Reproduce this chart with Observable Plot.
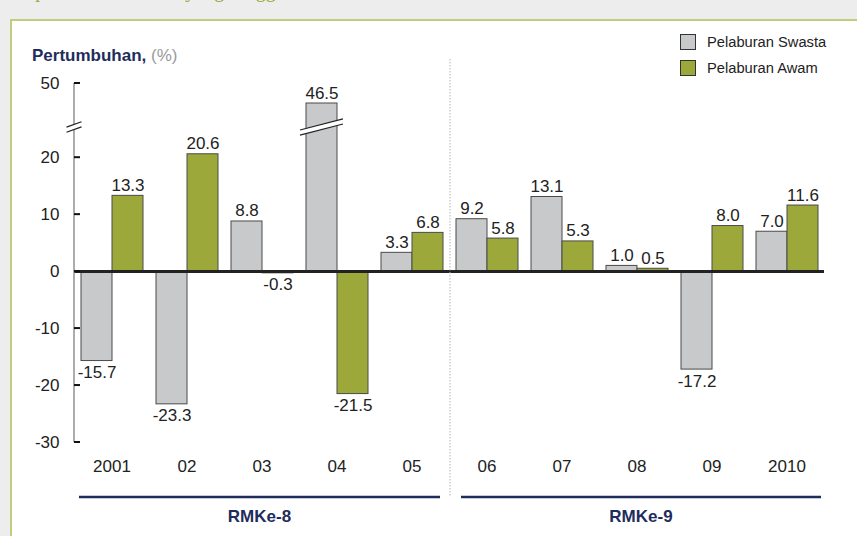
<!DOCTYPE html>
<html>
<head>
<meta charset="utf-8">
<script src="https://cdn.jsdelivr.net/npm/d3@7"></script>
<script src="https://cdn.jsdelivr.net/npm/@observablehq/plot@0.6"></script>
<style>
html, body { margin: 0; padding: 0; }
body { width: 857px; height: 536px; background: #ecedec; position: relative; overflow: hidden; font-family: "Liberation Sans", Arial, sans-serif; }
#title { position: absolute; left: 12px; top: -22px; font: 20px "Liberation Serif", serif; line-height: 24px; color: #9ba53c; white-space: nowrap; }
#panel { position: absolute; left: 10px; top: 19px; width: 900px; height: 600px; background: #fff; border-left: 2px solid #c3cb7c; border-top: 2px solid #c3cb7c; }
#chart { position: absolute; left: 0; top: 0; }
#ylabel { position: absolute; left: 32px; top: 46px; font-size: 17px; line-height: 20px; font-weight: bold; color: #1f2d5c; white-space: nowrap; }
#ylabel span { font-weight: normal; color: #9a9a9a; }
#legend { position: absolute; left: 680px; top: 33px; font-size: 14.7px; color: #222; }
.item { display: flex; align-items: center; height: 17px; margin-bottom: 9px; }
.sw { width: 14px; height: 14px; border: 1.5px solid #333; margin-right: 11px; box-sizing: content-box; }
</style>
</head>
<body>
<div id="title">Kepesatan Pelaburan yang Tinggi</div>
<div id="panel"></div>
<div id="chart"></div>
<div id="ylabel">Pertumbuhan, <span>(%)</span></div>
<div id="legend"></div>
<script>
const years = ["2001","2002","2003","2004","2005","2006","2007","2008","2009","2010"];
const yearLabels = ["2001","02","03","04","05","06","07","08","09","2010"];
const seriesNames = ["Pelaburan Swasta","Pelaburan Awam"];
const seriesColors = ["#c8c9cb","#9ca93a"];
const swasta = [-15.7,-23.3,8.8,46.5,3.3,9.2,13.1,1.0,-17.2,7.0];
const awam = [13.3,20.6,-0.3,-21.5,6.8,5.8,5.3,0.5,8.0,11.6];
const yTicks = [-30,-20,-10,0,10,20,50];
const planNames = ["RMKe-8","RMKe-9"];
const planStart = ["2001","2006"];
const planEnd = ["2005","2010"];
const breakLow = 25.3, breakHigh = 42.3;
const brokenBar = {year: "2004", series: "Pelaburan Swasta"};

const rows = years.flatMap((yr, i) => [
  {year: yr, series: seriesNames[0], value: swasta[i]},
  {year: yr, series: seriesNames[1], value: awam[i]}
]);
const fmt = v => v.toFixed(1);
const marginLeft = 70;

const plot = Plot.plot({
  width: 857, height: 536,
  marginLeft, marginRight: 30, marginTop: 60, marginBottom: 94,
  style: {background: "transparent", fontFamily: "'Liberation Sans', Arial, sans-serif", fontSize: "17px", color: "#222", overflow: "visible"},
  fx: {domain: years, padding: 0},
  x: {domain: seriesNames, padding: 0, insetLeft: 6.3, insetRight: 6.3, axis: null},
  y: {type: "linear", domain: [-30, breakLow, breakHigh, 50], range: [442, 127, 127, 83]},
  color: {domain: seriesNames, range: seriesColors},
  marks: [
    Plot.barY(rows, {fx: "year", x: "series", y: "value", fill: "series", stroke: "#4a4a4a", strokeWidth: 1}),
    Plot.ruleY([0], {stroke: "#222", strokeWidth: 3}),
    Plot.text(rows.filter(d => d.value >= 0), {fx: "year", x: "series", y: "value", text: d => fmt(d.value), lineAnchor: "bottom", dy: -5, fill: "#222"}),
    Plot.text(rows.filter(d => d.value < 0), {fx: "year", x: "series", y: "value", text: d => fmt(d.value), lineAnchor: "top", dy: 5, fill: "#222"}),
    Plot.axisY({ticks: yTicks, tickSize: 0, tickPadding: 15, anchor: "left", label: null, fill: "#222", tickFormat: d => String(d)}),
    Plot.axisFx({anchor: "bottom", tickSize: 0, tickPadding: 17, tickFormat: d => yearLabels[years.indexOf(d)], label: null, fill: "#222"})
  ]
});
document.getElementById("chart").append(plot);

const svg = d3.select(plot);
const Y = plot.scale("y"), FX = plot.scale("fx"), X = plot.scale("x");
const fxStart = d => FX.apply(d);
const bw = FX.bandwidth;
const g = svg.append("g");
const ax = fxStart(years[0]);
const yb = (Y.apply(breakLow) + Y.apply(breakHigh)) / 2;

// y axis line with break
g.append("line").attr("x1", ax).attr("x2", ax).attr("y1", Y.apply(50)).attr("y2", Y.apply(-30)).attr("stroke", "#808080").attr("stroke-width", 1.3);
yTicks.forEach(t => {
  g.append("line").attr("x1", ax).attr("x2", ax + 6).attr("y1", Y.apply(t)).attr("y2", Y.apply(t)).attr("stroke", "#111").attr("stroke-width", 2);
});
function breakMark(x0, x1, yc, slope) {
  const h = (x1 - x0) * slope / 2;
  const gap = 2.6;
  g.append("polygon")
    .attr("points", [[x0, yc + h - gap], [x1, yc - h - gap], [x1, yc - h + gap], [x0, yc + h + gap]].map(p => p.join(",")).join(" "))
    .attr("fill", "#fff");
  [-gap, gap].forEach(o => {
    g.append("line").attr("x1", x0).attr("y1", yc + h + o).attr("x2", x1).attr("y2", yc - h + o).attr("stroke", "#222").attr("stroke-width", 1.2);
  });
}
breakMark(ax - 7.5, ax + 7.5, yb, 0.36);
{
  const bx = fxStart(brokenBar.year) + X.apply(brokenBar.series) - marginLeft;
  const bwid = X.bandwidth;
  breakMark(bx - 6, bx + bwid + 6, yb, 0.26);
}
{
  const xd = fxStart(planStart[1]);
  g.append("line").attr("x1", xd + 1).attr("x2", xd + 1).attr("y1", 59).attr("y2", 497).attr("stroke", "#b5b5b5").attr("stroke-width", 1).attr("stroke-dasharray", "1.5,1.5");
}
planNames.forEach((name, i) => {
  const x1 = fxStart(planStart[i]) + (i === 0 ? 5 : 12);
  const x2 = fxStart(planEnd[i]) + bw - (i === 0 ? 9 : 3);
  g.append("line").attr("x1", x1).attr("x2", x2).attr("y1", 497).attr("y2", 497).attr("stroke", "#1f2d5c").attr("stroke-width", 2.6);
  g.append("text").attr("x", (x1 + x2) / 2).attr("y", 522).attr("text-anchor", "middle")
    .attr("font-weight", "bold").attr("font-size", 17).attr("fill", "#1f2d5c").text(name);
});

const legend = d3.select("#legend");
seriesNames.forEach((s, i) => {
  const it = legend.append("div").attr("class", "item");
  it.append("div").attr("class", "sw").style("background", seriesColors[i]);
  it.append("span").text(s);
});
</script>
</body>
</html>
